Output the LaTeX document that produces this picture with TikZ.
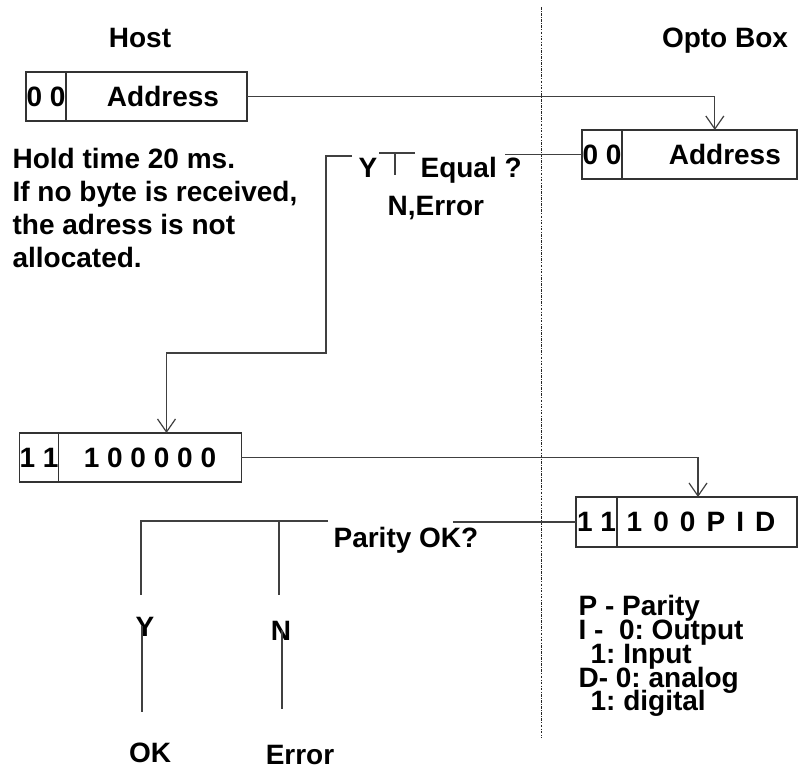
\documentclass[tikz,border=0pt]{standalone}
\usepackage{fontspec}
\setmainfont{Liberation Sans}
\usetikzlibrary{arrows.meta,positioning}
\setlength{\lineskiplimit}{-20pt}
\frenchspacing

\begin{document}
\begin{tikzpicture}[x=0.75pt,y=-0.75pt,>={Straight Barb[length=9.75pt,width=13.5pt]},line width=0.9pt]
\tikzstyle{cell}=[draw=black!80,outer sep=0pt,inner sep=0pt,minimum height=36.75pt,font=\fontsize{21}{25}\selectfont\bfseries]
\tikzstyle{lbl}=[inner sep=0pt,font=\fontsize{21}{24.75}\selectfont\bfseries]
\tikzstyle{wire}=[draw=black!75]
\useasboundingbox (0,0) rectangle (799,769);
% headings and the dividing line
\node[lbl,anchor=base] (host) at (140,47) {Host};
\node[lbl,anchor=base] (opto) at (725,47) {Opto Box};
\coordinate (septop) at (541,7);
\coordinate (sepbot) at (541,738);
\draw[black!85,line width=0.6pt,dash pattern=on 2pt off 1pt on 0.6pt off 1pt] (septop) -- (sepbot);
% address byte
\node[cell,minimum width=30pt] (hostflag) at (46,96.5) {0 0};
\node[cell,minimum width=135.75pt,right=0pt of hostflag] (hostaddr) {\hspace*{9.75pt}Address};
\node[cell,minimum width=30pt] (optoflag) at (602,154.5) {0 0};
\node[cell,minimum width=131.25pt,right=0pt of optoflag] (optoaddr) {\hspace*{23pt}Address};
% type byte
\node[cell,minimum width=28.5pt] (hostflag2) at (39,457.5) {1 1};
\node[cell,minimum width=137.25pt,right=0pt of hostflag2] (hostrow) {1 0 0 0 0 0};
\node[cell,minimum width=30.75pt,minimum height=37.5pt] (optoflag2) at (596.5,522) {1 1};
\node[cell,minimum width=135pt,minimum height=37.5pt,right=0pt of optoflag2] (optorow) {{\spaceskip=8.3pt 1 0 0 P I D}\hspace*{9pt}};
% texts
\node[lbl,anchor=north west,align=left] (hold) at (12,148) {Hold time 20 ms.\\If no byte is received,\\the adress is not\\allocated.};
\node[lbl,anchor=base] (yes1) at (368,177) {Y};
\node[lbl,anchor=base west] (equal) at (420,177) {Equal ?};
\node[lbl,anchor=base west] (err1) at (387,215) {N,Error};
\node[lbl,anchor=base west] (parity) at (333,547) {Parity OK?};
\node[lbl,anchor=base] (yes2) at (145,636) {Y};
\node[lbl,anchor=base] (no2) at (281,640) {N};
\node[lbl,anchor=base] (ok) at (150,762) {OK};
\node[lbl,anchor=base] (err2) at (300,764) {Error};
\node[lbl,anchor=north west,align=left,font=\fontsize{21}{17.8}\selectfont\bfseries] (legend) at (578,595) {P - Parity\\I -\ \ 0: Output\\\hspace*{9pt}1: Input\\D- 0: analog\\\hspace*{9pt}1: digital};
% connectors
\draw[wire,->] (hostaddr.east) -| ([xshift=4pt]optoaddr.north);
\draw[wire,->] (hostrow.east) -| ([xshift=-6.75pt]optorow.north);
\coordinate (eqend) at (505,153);
\draw[wire] (optoflag.west) -- (optoflag.west -| eqend);
\draw[wire] (415,153) -- (379,153) (395,153) -- (395,175);
\coordinate (ystart) at (352,156);
\coordinate (ybend) at (326,353);
\draw[wire,->] (ystart) -| (ybend) -| ([xshift=12.4pt]hostrow.north);
\coordinate (parend) at (453,524);
\draw[wire] (optoflag2.west) -- (optoflag2.west -| parend);
\coordinate (brk) at (328,521);
\coordinate (yup) at (141,595);
\coordinate (ntop) at (279,521);
\coordinate (nup) at (279,595);
\draw[wire] (brk) -| (yup);
\draw[wire] (ntop) -- (nup);
\coordinate (ylo) at (142,712);
\coordinate (nlo) at (282,709);
\draw[wire] (yes2.center -| ylo) -- (ylo);
\draw[wire] (no2.center -| nlo) -- (nlo);
\end{tikzpicture}
\end{document}
